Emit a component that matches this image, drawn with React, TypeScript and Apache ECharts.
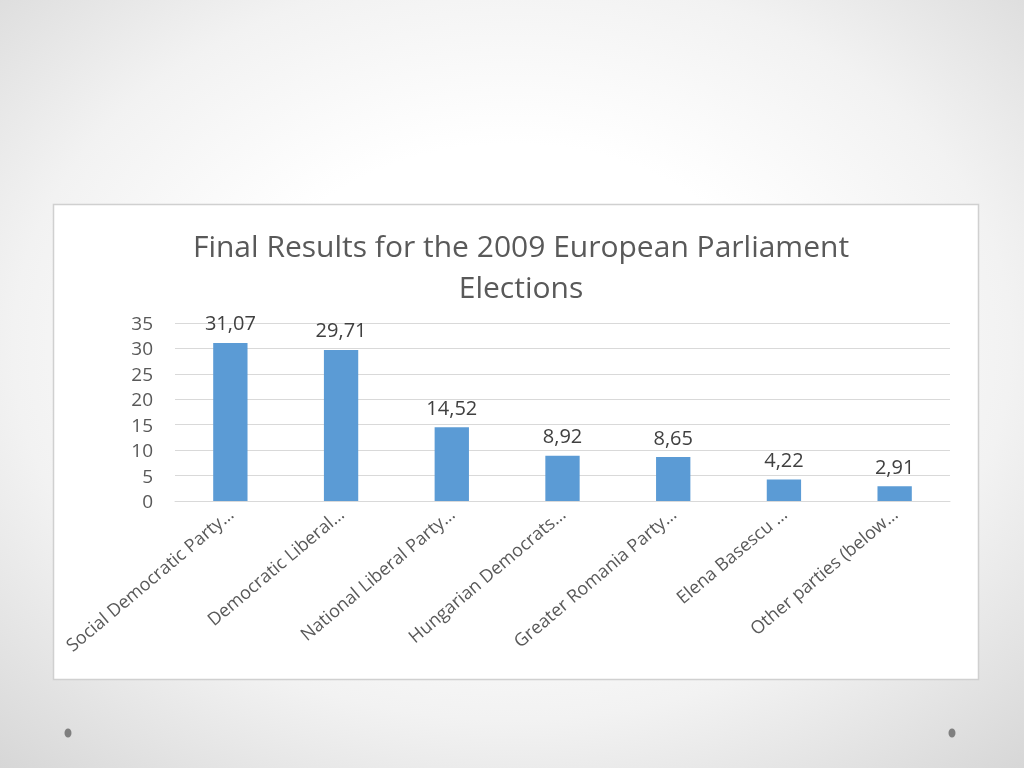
import { useEffect, useRef } from "react";
import * as echarts from "echarts";

const parties = [
  "Social Democratic Party…",
  "Democratic Liberal…",
  "National Liberal Party…",
  "Hungarian Democrats…",
  "Greater Romania Party…",
  "Elena Basescu …",
  "Other parties (below…",
];
const results = [31.07, 29.71, 14.52, 8.92, 8.65, 4.22, 2.91];
const titleLines = ["Final Results for the 2009 European Parliament", "Elections"];

const FONT = "'Open Sans', Lato, sans-serif";

export default function App() {
  const ref = useRef<HTMLDivElement>(null);
  useEffect(() => {
    if (!ref.current) return;
    const chart = echarts.init(ref.current, null, { renderer: "svg" });
    chart.setOption({
      animation: false,
      textStyle: { fontFamily: FONT },
      title: {
        text: titleLines.join("\n"),
        left: 516,
        top: 220,
        textAlign: "center",
        textStyle: { fontSize: 30, fontWeight: "normal", color: "#595959", lineHeight: 41, fontFamily: FONT },
      },
      graphic: [
        {
          type: "rect",
          z: -10,
          shape: { x: 53.5, y: 204.5, width: 925, height: 475 },
          style: { fill: "#ffffff", stroke: "#d0d0d0", lineWidth: 1.5 },
        },
        { type: "ellipse", shape: { cx: 68, cy: 733, rx: 3.5, ry: 4.5 }, style: { fill: "#7f7f7f" } },
        { type: "ellipse", shape: { cx: 952, cy: 733, rx: 3.5, ry: 4.5 }, style: { fill: "#7f7f7f" } },
      ],
      grid: { left: 175, right: 74, top: 323, bottom: 267 },
      xAxis: {
        type: "category",
        data: parties,
        axisLine: { lineStyle: { color: "#d9d9d9" } },
        axisTick: { show: false },
        axisLabel: { rotate: 40, color: "#595959", fontSize: 18, margin: 10, interval: 0 },
      },
      yAxis: {
        type: "value",
        min: 0,
        max: 35,
        interval: 5,
        axisLine: { show: false },
        axisTick: { show: false },
        splitLine: { lineStyle: { color: "#d9d9d9" } },
        axisLabel: { color: "#595959", fontSize: 19, margin: 22 },
      },
      series: [
        {
          type: "bar",
          data: results,
          barWidth: "31%",
          itemStyle: { color: "#5b9bd5" },
          label: {
            show: true,
            position: "top",
            distance: 10,
            color: "#404040",
            fontSize: 20,
            formatter: (p: any) => p.value.toFixed(2).replace(".", ","),
          },
        },
      ],
    });
    return () => chart.dispose();
  }, []);
  return (
    <div
      style={{
        position: "fixed",
        left: 0,
        top: 0,
        width: 1024,
        height: 768,
        background: "radial-gradient(ellipse 75% 75% at 50% 45%, #ffffff 35%, #f2f2f2 65%, #d6d6d6 100%)",
      }}
    >
      <div ref={ref} style={{ width: 1024, height: 768 }} />
    </div>
  );
}
